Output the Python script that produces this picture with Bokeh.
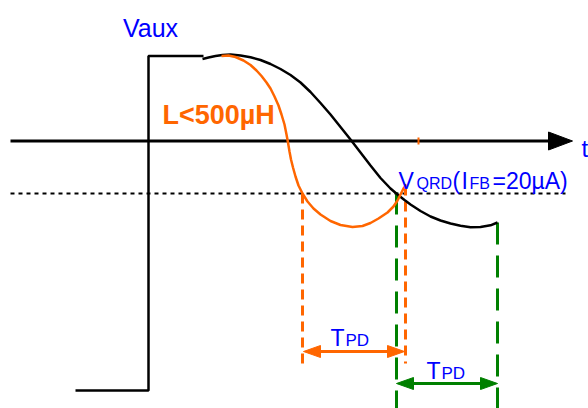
from bokeh.plotting import figure
from bokeh.models import Range1d
from bokeh.embed import file_html
from bokeh.resources import INLINE
from bokeh.core.properties import value

W, H = 588, 408

# ---- waveform data (drawing units) ----
step_x = [75, 148, 148, 203]
step_y = [390, 390, 55.5, 55.5]

black_x = [202, 208, 215, 222, 230, 240, 250, 260, 270, 280, 290, 300, 310, 320, 330, 340,
           350, 360, 370, 380, 390, 397, 404, 410, 420, 430, 440, 450, 460, 470, 480, 490, 497]
black_y = [58.5, 57, 55.5, 54.5, 54, 55, 56.7, 59.5, 63.5, 68.5, 74.5, 82, 91.5, 102.5, 114, 126.5,
           139, 152, 165, 177.5, 188, 194, 199.5, 204, 210.5, 216, 220, 223, 225.3, 226.7, 226.5,
           224.8, 222]

orange_x = [221, 228, 235, 243, 250, 256, 261, 266, 270, 274, 278, 281, 284, 286, 287.5, 289,
            290.5, 292.5, 295, 298, 302, 307, 313, 320, 330, 340, 352, 362, 370, 378, 387, 393,
            397, 400, 403, 406]
orange_y = [55.5, 55, 56.5, 60, 64.5, 70, 75.5, 82, 88, 96, 105, 114, 124, 134, 142, 151,
            159, 167, 176, 185, 193, 201, 208, 214, 220.5, 224.5, 226.5, 225.5, 222.5, 218, 212, 206,
            200, 194, 188, 184]

axis_y = 140.5
axis_start, axis_end = 10, 572
thresh_y = 193
thresh_start, thresh_end = 10, 565

orange_marks_x = [302, 405]
orange_marks_top = [193, 185]
orange_marks_bottom = [365, 363]
green_marks_x = [396, 497]
green_marks_top = [192, 222]
green_marks_bottom = [410, 410]

tpd_orange = (303, 404, 351)
tpd_green = (396, 497, 383)

ORANGE = "#FF6600"
GREEN = "#008000"
BLUE = "#0000FF"
FONT = "Liberation Sans"

p = figure(width=W, height=H, output_backend="svg", toolbar_location=None,
           x_range=Range1d(0, W), y_range=Range1d(H, 0),
           min_border=0, outline_line_color=None)
p.axis.visible = False
p.grid.visible = False
p.background_fill_color = "white"

# time axis with arrow
p.line([axis_start, axis_end - 22], [axis_y, axis_y], line_color="black", line_width=3)
p.patch([axis_end, axis_end - 24, axis_end - 24], [axis_y, axis_y - 9, axis_y + 9],
        fill_color="black", line_color="black")
p.segment(x0=[418], y0=[axis_y - 3.5], x1=[418], y1=[axis_y + 3.5], line_color=ORANGE, line_width=2)

# threshold dotted line
p.line([thresh_start, thresh_end], [thresh_y, thresh_y], line_color="black",
       line_width=2, line_dash="4 4")

# dashed markers
p.segment(x0=orange_marks_x, y0=orange_marks_top, x1=orange_marks_x, y1=orange_marks_bottom,
          line_color=ORANGE, line_width=3, line_dash="10 6")
p.segment(x0=green_marks_x, y0=green_marks_top, x1=green_marks_x, y1=green_marks_bottom,
          line_color=GREEN, line_width=3, line_dash="22 11")

# waveforms
p.line(step_x, step_y, line_color="black", line_width=2.5)
p.line(black_x, black_y, line_color="black", line_width=2.5)
p.line(orange_x, orange_y, line_color=ORANGE, line_width=2.5)

# double arrows
def double_arrow(x0, x1, y, color):
    hl, hw = 17, 6
    p.line([x0 + hl - 2, x1 - hl + 2], [y, y], line_color=color, line_width=3)
    p.patches([[x0, x0 + hl, x0 + hl], [x1, x1 - hl, x1 - hl]],
              [[y, y - hw, y + hw], [y, y - hw, y + hw]],
              fill_color=color, line_color=color)

double_arrow(*tpd_orange, ORANGE)
double_arrow(*tpd_green, GREEN)

# texts: (text, x, y, size, color, style, align)
SMALL_SHIFT = 2.5
texts = [
    ("Vaux", 150, 27, 25, BLUE, "normal", "center"),
    ("L<500µH", 162, 114, 27, ORANGE, "bold", "left"),
    ("V", 398, 180, 23, BLUE, "normal", "left"),
    ("QRD", 416, 180 + SMALL_SHIFT, 16, BLUE, "normal", "left"),
    ("(", 452, 180, 23, BLUE, "normal", "left"),
    ("I", 461, 180, 23, BLUE, "normal", "left"),
    ("FB", 469, 180 + SMALL_SHIFT, 16, BLUE, "normal", "left"),
    ("=20µA)", 492, 180, 23, BLUE, "normal", "left"),
    ("T", 330, 337, 23, BLUE, "normal", "left"),
    ("PD", 345, 337 + SMALL_SHIFT, 17, BLUE, "normal", "left"),
    ("T", 426, 370, 23, BLUE, "normal", "left"),
    ("PD", 441, 370 + SMALL_SHIFT, 17, BLUE, "normal", "left"),
    ("t", 581, 148, 24, BLUE, "normal", "left"),
]
for t, x, y, s, c, st, al in texts:
    p.text(x=[x], y=[y], text=[t], text_font=value(FONT), text_font_size=f"{s}px",
           text_color=c, text_font_style=st, text_align=al, text_baseline="alphabetic")

open("out.html", "w").write(file_html(p, INLINE))
